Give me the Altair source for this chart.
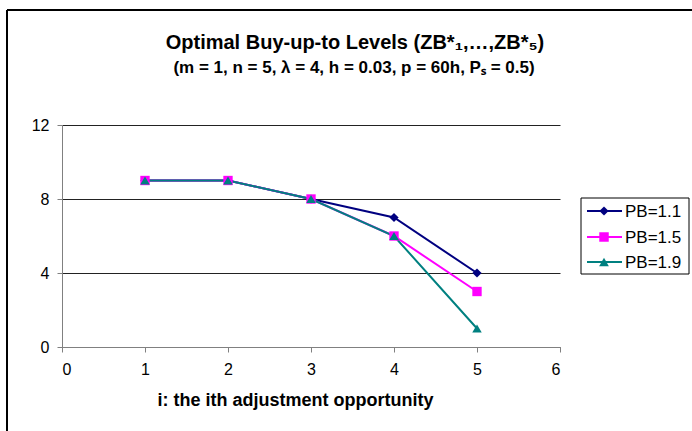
import altair as alt
import pandas as pd

# ---- data ----
opportunity = [1, 2, 3, 4, 5]
series_names = ["PB=1.1", "PB=1.5", "PB=1.9"]
pb11 = [9, 9, 8, 7, 4]
pb15 = [9, 9, 8, 6, 3]
pb19 = [9, 9, 8, 6, 1]
series_values = [pb11, pb15, pb19]
series_colors = ["#000080", "#FF00FF", "#008080"]
series_shapes = ["diamond", "square", "triangle-up"]
series_sizes = [85, 90, 95]
x_ticks = [0, 1, 2, 3, 4, 5, 6]
y_ticks = [0, 4, 8, 12]
title_text = ["Optimal Buy-up-to Levels (ZB*\u2081,\u2026,ZB*\u2085)"]
subtitle_text = ["(m = 1, n = 5, \u03bb = 4, h = 0.03, p = 60h, P\u209b = 0.5)"]
x_title = "i: the ith adjustment opportunity"

FONT = "Liberation Sans"

rows = []
for name, vals in zip(series_names, series_values):
    for i, v in zip(opportunity, vals):
        rows.append({"i": i, "level": v, "series": name})
df = pd.DataFrame(rows)

W, H = 498, 222

xs = alt.X("i:Q", scale=alt.Scale(domain=[0, 6], nice=False),
           axis=alt.Axis(values=x_ticks, format="d", title=x_title, grid=False,
                         labelFont=FONT, labelFontSize=16, labelColor="#000",
                         labelPadding=9, tickSize=5, tickColor="#808080",
                         domainColor="#808080", titleFont=FONT, titleFontSize=18,
                         titleFontWeight="bold", titleColor="#000",
                         titleX=233, titleY=58, titleBaseline="alphabetic"))
ys = alt.Y("level:Q", scale=alt.Scale(domain=[0, 12], nice=False),
           axis=alt.Axis(values=y_ticks, format="d", title=None, grid=True,
                         gridColor="#222", gridWidth=1, labelFont=FONT,
                         labelFontSize=16, labelColor="#000", labelPadding=8,
                         tickSize=5, tickColor="#808080", domainColor="#808080"))
color = alt.Color("series:N", scale=alt.Scale(domain=series_names, range=series_colors),
                  legend=None)
shape = alt.Shape("series:N", scale=alt.Scale(domain=series_names, range=series_shapes),
                  legend=None)
size = alt.Size("series:N", scale=alt.Scale(domain=series_names, range=series_sizes),
                legend=None)

lines = alt.Chart(df).mark_line(strokeWidth=2).encode(x=xs, y=ys, color=color)
points = alt.Chart(df).mark_point(filled=True, opacity=1).encode(
    x="i:Q", y="level:Q", color=color, shape=shape, size=size)

layers = [lines, points]

# Titles
layers.append(alt.Chart(pd.DataFrame({"t": title_text})).mark_text(
    font=FONT, fontSize=20, fontWeight="bold", color="#000", baseline="alphabetic",
    align="center").encode(text="t:N", x=alt.value(293), y=alt.value(-76)))
layers.append(alt.Chart(pd.DataFrame({"t": subtitle_text})).mark_text(
    font=FONT, fontSize=17, fontWeight="bold", color="#000", baseline="alphabetic",
    align="center").encode(text="t:N", x=alt.value(292), y=alt.value(-52)))

# Outer chart border (top and left edges visible)
layers.append(alt.Chart(pd.DataFrame({"a": [0]})).mark_rule(color="#000", strokeWidth=2).encode(
    x=alt.value(-55), x2=alt.value(640), y=alt.value(-115)))
layers.append(alt.Chart(pd.DataFrame({"a": [0]})).mark_rule(color="#000", strokeWidth=2).encode(
    x=alt.value(-55), y=alt.value(-115), y2=alt.value(310)))

# Legend box
layers.append(alt.Chart(pd.DataFrame({"a": [0]})).mark_rect(
    fill="white", stroke="#000", strokeWidth=1).encode(
    x=alt.value(519), x2=alt.value(627), y=alt.value(73), y2=alt.value(149)))
row_y = [86, 112, 137]
for name, col, shp, sz, ry in zip(series_names, series_colors, series_shapes,
                                  series_sizes, row_y):
    ldf = pd.DataFrame({"series": [name]})
    layers.append(alt.Chart(ldf).mark_rule(color=col, strokeWidth=2).encode(
        x=alt.value(525), x2=alt.value(560), y=alt.value(ry)))
    layers.append(alt.Chart(ldf).mark_point(filled=True, opacity=1, color=col,
                                            shape=shp, size=sz).encode(
        x=alt.value(542), y=alt.value(ry)))
    layers.append(alt.Chart(ldf).mark_text(font=FONT, fontSize=17, color="#000",
                                           align="left", baseline="middle").encode(
        text="series:N", x=alt.value(563), y=alt.value(ry + 1)))

chart = alt.layer(*layers).properties(
    width=W, height=H,
    autosize=alt.AutoSizeParams(type="none"),
    padding={"left": 62, "top": 125, "right": 132, "bottom": 84},
    background="white",
).configure_view(stroke=None)

chart.save("out.html", embed_options={"renderer": "svg", "actions": False})
